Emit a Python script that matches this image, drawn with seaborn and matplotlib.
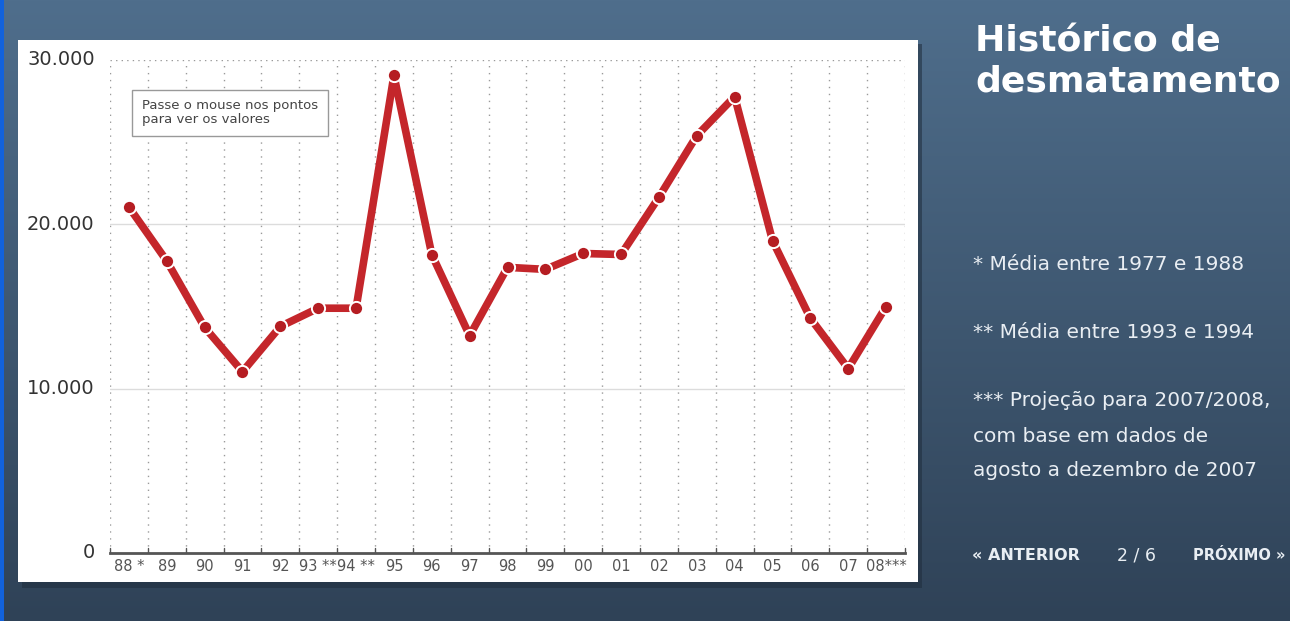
import numpy as np
import matplotlib
matplotlib.use("Agg")
import matplotlib.pyplot as plt
from matplotlib.patches import Rectangle
from matplotlib.ticker import FuncFormatter
import seaborn as sns

# dados (km² desmatados por ano, leitura do gráfico)
anos = ["88 *", "89", "90", "91", "92", "93 **", "94 **", "95", "96", "97",
        "98", "99", "00", "01", "02", "03", "04", "05", "06", "07", "08***"]
desmatamento = [21050, 17770, 13730, 11030, 13786, 14896, 14896, 29059, 18161, 13227,
                17383, 17259, 18226, 18165, 21651, 25396, 27772, 19014, 14286, 11224, 15000]
y_ticks = [0, 10000, 20000, 30000]

notas = ["* Média entre 1977 e 1988",
         "** Média entre 1993 e 1994",
         "*** Projeção para 2007/2008,",
         "com base em dados de",
         "agosto a dezembro de 2007"]

W, H = 1290, 621
sns.set_style("white")
plt.rcParams["font.family"] = ["DejaVu Sans"]

fig = plt.figure(figsize=(W / 100, H / 100), dpi=100)

# fundo em degradê
bg = fig.add_axes([0, 0, 1, 1], zorder=-10)
top = np.array([0x4f, 0x6e, 0x8c]) / 255
bot = np.array([0x2f, 0x42, 0x57]) / 255
t = np.linspace(0, 1, 256)[:, None]
grad = (top[None, :] * (1 - t) + bot[None, :] * t)[:, None, :]
bg.imshow(grad, aspect="auto", extent=[0, 1, 0, 1])
bg.set_xlim(0, 1)
bg.set_ylim(0, 1)
bg.axis("off")

def fx(px):
    return px / W

def fy(py):
    return 1 - py / H

# faixa azul à esquerda
bg.add_patch(Rectangle((0, 0), fx(4), 1, color="#1262dc", lw=0))
# sombra + painel branco
bg.add_patch(Rectangle((fx(22), fy(588)), fx(900), fy(44) - fy(588), color="#1f2d3c", alpha=0.55, lw=0))
bg.add_patch(Rectangle((fx(18), fy(582)), fx(900), fy(40) - fy(582), color="white", lw=0))

# eixo do gráfico
ax = fig.add_axes([fx(110), fy(553), fx(795), fy(60) - fy(553)])
ax.set_facecolor("none")
x = np.arange(len(anos))
sns.lineplot(x=x, y=desmatamento, ax=ax, color="#c4262b", linewidth=5.5,
             marker="o", markersize=9.5, markerfacecolor="#b51d22",
             markeredgecolor="white", markeredgewidth=1.4, zorder=5)

ax.set_xlim(-0.5, len(anos) - 0.5)
ax.set_ylim(0, 30000)
ax.set_xticks(x)
ax.set_xticklabels(anos, fontsize=10.5, color="#555555")
ax.set_yticks(y_ticks)
ax.yaxis.set_major_formatter(FuncFormatter(lambda v, p: "0" if v == 0 else f"{int(v):,}".replace(",", ".")))
ax.tick_params(axis="y", labelsize=14, colors="#333333", length=0, pad=11)
ax.tick_params(axis="x", length=0, pad=4)
for lab in ax.get_yticklabels():
    lab.set_verticalalignment("center")

# grades
for b in np.arange(-0.5, len(anos), 1.0):
    ax.axvline(b, color="#9a9a9a", lw=1.0, ls=(0, (1, 4)), zorder=1)
    ax.plot([b, b], [0, 300], color="#555555", lw=1, zorder=2, clip_on=False)
for v in y_ticks[1:-1]:
    ax.axhline(v, color="#dcdcdc", lw=1, zorder=1)
ax.axhline(30000, color="#9a9a9a", lw=1, ls=(0, (1, 3)), zorder=1)

for s in ["top", "right", "left"]:
    ax.spines[s].set_visible(False)
ax.spines["bottom"].set_color("#555555")
ax.spines["bottom"].set_linewidth(2)

# caixa de instrução
ax.text(0.04, 0.92, "Passe o mouse nos pontos\npara ver os valores", transform=ax.transAxes,
        fontsize=9.5, color="#444444", va="top", ha="left", linespacing=1.05,
        bbox=dict(boxstyle="square,pad=0.75", fc="white", ec="#999999", lw=1))

# título e notas
fig.text(fx(975), fy(24), "Histórico de\ndesmatamento", color="white", fontsize=26,
         fontweight="bold", va="top", ha="left", linespacing=1.25)
ys = [265, 332, 400, 436, 470]
for txt, yy in zip(notas, ys):
    fig.text(fx(973), fy(yy), txt, color="#e9eef3", fontsize=14.5, va="center", ha="left")

fig.text(fx(972), fy(555), "« ANTERIOR", color="#e9eef3", fontsize=11.5, fontweight="bold", va="center")
fig.text(fx(1117), fy(556), "2 / 6", color="#e9eef3", fontsize=12.5, va="center")
fig.text(fx(1193), fy(555), "PRÓXIMO »", color="#e9eef3", fontsize=10.5, fontweight="bold", va="center")

fig.savefig("out.png", dpi=100)
